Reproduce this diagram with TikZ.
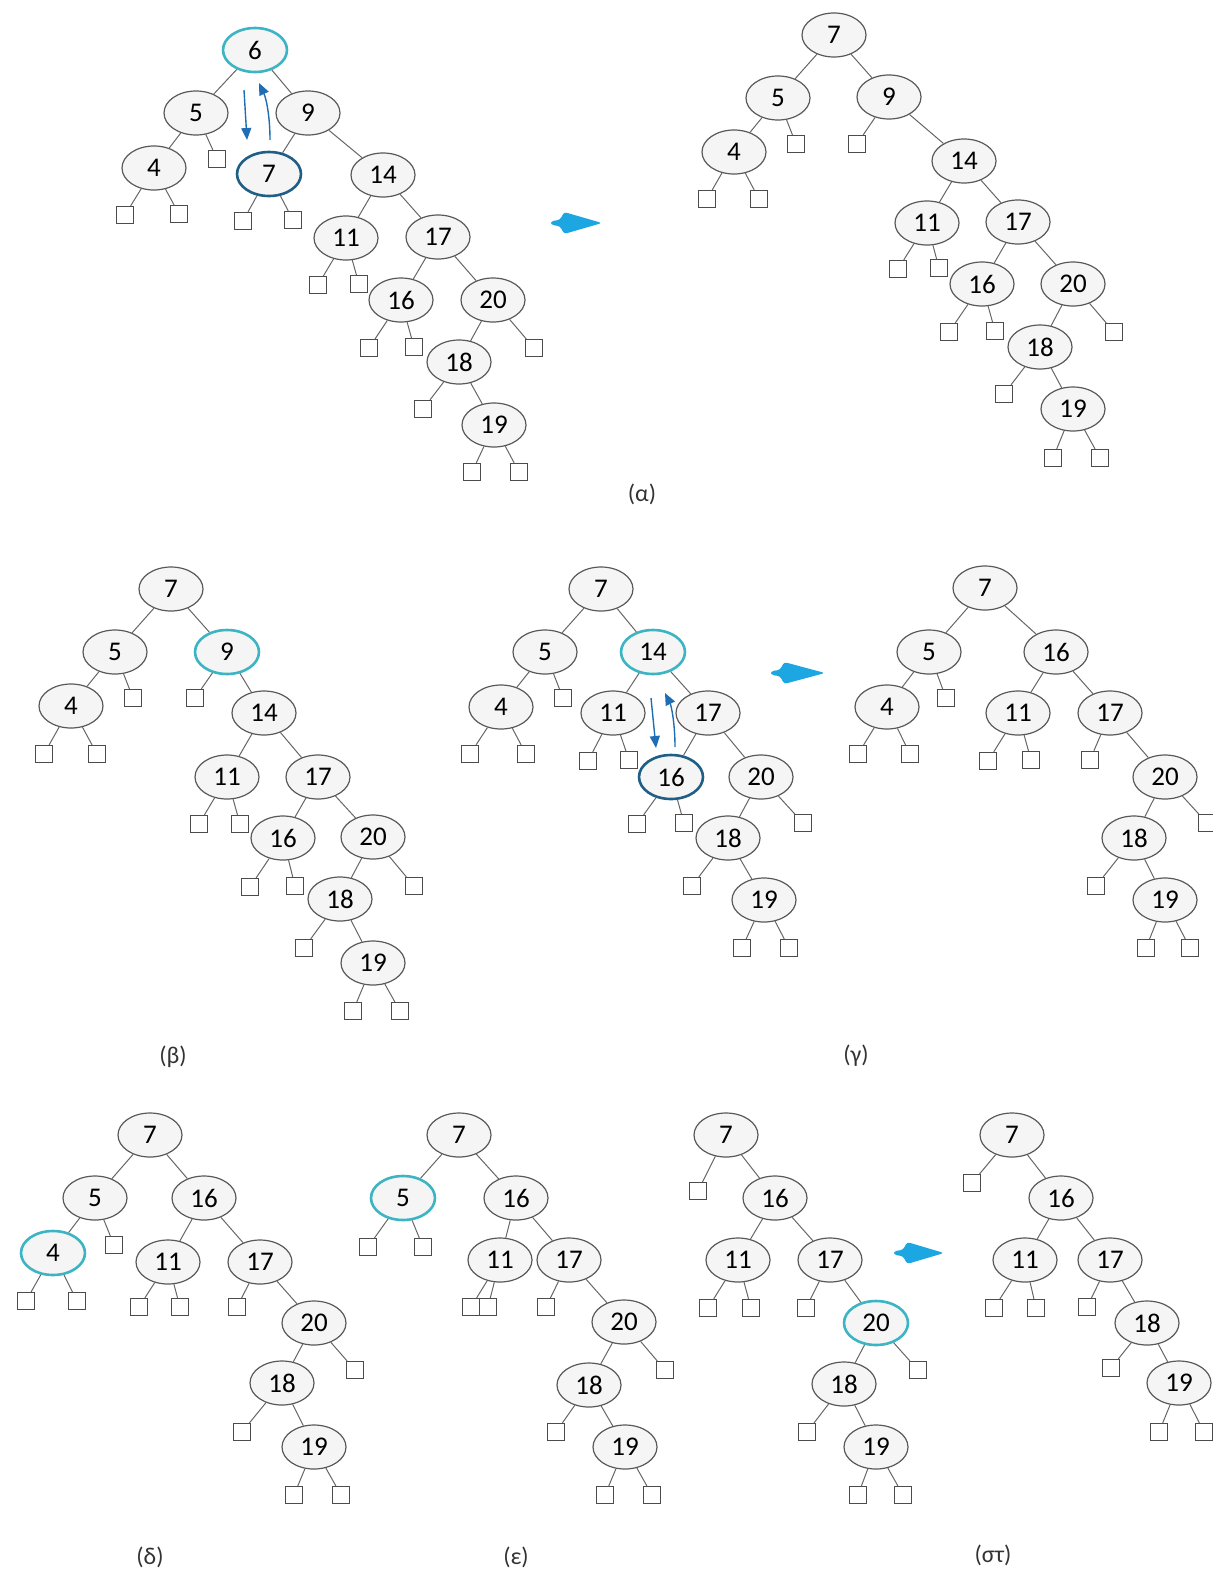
\documentclass[tikz,border=0pt]{standalone}
\usepackage{fontspec}
\setmainfont{Carlito}
\usetikzlibrary{shapes.geometric,arrows.meta}
\definecolor{hlcol}{HTML}{3CB4C4}
\definecolor{hdcol}{HTML}{1F5F86}
\definecolor{smarr}{HTML}{1F6DB5}
\definecolor{bigarr}{HTML}{1CA6E2}
\tikzset{
  nd/.style={ellipse, draw=black!65, fill=black!4, line width=0.6pt, minimum width=32pt, minimum height=22pt, inner sep=0pt, font=\fontsize{13.5}{13.5}\selectfont},
  hlc/.style={draw=hlcol, line width=1.3pt},
  hld/.style={draw=hdcol, line width=1.3pt},
  lf/.style={rectangle, draw=black!70, fill=white, minimum size=8.5pt, inner sep=0pt, line width=0.6pt},
  ed/.style={draw=black!60, line width=0.5pt},
  lab/.style={font=\fontsize{12}{12}\selectfont, text=black!80},
  bigarrow/.style={fill=bigarr, draw=none},
  smallarrow/.style={draw=smarr, line width=0.7pt, -{Triangle[length=6pt,width=5pt]}},
}
\begin{document}
\begin{tikzpicture}[x=0.5pt,y=-0.5pt]
\useasboundingbox (0,0) rectangle (1213,1569);
% ---------- (alpha) left ----------
\node[nd,hlc] (a6) at (255,50) {6};
\node[nd] (a5) at (196,113) {5};
\node[nd] (a9) at (308,113) {9};
\node[nd] (a4) at (154,168) {4};
\node[lf] (a5R) at (217,159) {};
\node[nd,hld] (a7) at (269,174) {7};
\node[nd] (a14) at (383,175) {14};
\node[lf] (a4L) at (125,215) {};
\node[lf] (a4R) at (179,214) {};
\node[lf] (a7L) at (243,221) {};
\node[lf] (a7R) at (293,220) {};
\node[nd] (a11) at (346,238) {11};
\node[nd] (a17) at (438,237) {17};
\node[lf] (a11L) at (318,285) {};
\node[lf] (a11R) at (359,284) {};
\node[nd] (a16) at (401,300) {16};
\node[nd] (a20) at (493,300) {20};
\node[lf] (a16L) at (369,348) {};
\node[lf] (a16R) at (414,347) {};
\node[lf] (a20R) at (534,348) {};
\node[nd] (a18) at (459,362) {18};
\node[lf] (a18L) at (423,409) {};
\node[nd] (a19) at (494,425) {19};
\node[lf] (a19L) at (472,472) {};
\node[lf] (a19R) at (519,472) {};
\foreach \p/\c in {a6/a5,a6/a9,a5/a4,a5/a5R,a4/a4L,a4/a4R,a9/a7,a9/a14,a7/a7L,a7/a7R,a14/a11,a14/a17,a11/a11L,a11/a11R,a17/a16,a17/a20,a16/a16L,a16/a16R,a20/a18,a20/a20R,a18/a18L,a18/a19,a19/a19L,a19/a19R}
  \draw[ed] (\p) -- (\c);
\coordinate (sa1) at (244,90);
\coordinate (sa2) at (247,140);
\coordinate (sa3) at (270,140);
\coordinate (sa4) at (259,83);
\draw[smallarrow] (sa1) -- (sa2);
\draw[smallarrow] (sa3) .. controls (270,115) and (266,98) .. (sa4);
% big arrow alpha
\fill[bigarrow, rounded corners=1.5pt] (551,221) -- (560,220) -- (564,212) -- (602,223) -- (564,234) -- (560,226) -- (551,225) -- cycle;
% ---------- (alpha) right ----------
\node[nd] (b7) at (834,35) {7};
\node[nd] (b5) at (778,98) {5};
\node[nd] (b9) at (889,97) {9};
\node[nd] (b4) at (734,152) {4};
\node[lf] (b5R) at (796,144) {};
\node[lf] (b9L) at (857,144) {};
\node[nd] (b14) at (964,161) {14};
\node[lf] (b4L) at (707,199) {};
\node[lf] (b4R) at (759,199) {};
\node[nd] (b11) at (927,223) {11};
\node[nd] (b17) at (1018,222) {17};
\node[lf] (b11L) at (898,269) {};
\node[lf] (b11R) at (939,268) {};
\node[nd] (b16) at (982,284) {16};
\node[nd] (b20) at (1073,284) {20};
\node[lf] (b16L) at (949,332) {};
\node[lf] (b16R) at (995,331) {};
\node[lf] (b20R) at (1114,332) {};
\node[nd] (b18) at (1040,347) {18};
\node[lf] (b18L) at (1004,394) {};
\node[nd] (b19) at (1073,409) {19};
\node[lf] (b19L) at (1053,458) {};
\node[lf] (b19R) at (1100,458) {};
\foreach \p/\c in {b7/b5,b7/b9,b5/b4,b5/b5R,b9/b9L,b9/b14,b4/b4L,b4/b4R,b14/b11,b14/b17,b11/b11L,b11/b11R,b17/b16,b17/b20,b16/b16L,b16/b16R,b20/b18,b20/b20R,b18/b18L,b18/b19,b19/b19L,b19/b19R}
  \draw[ed] (\p) -- (\c);
\node[lab] (la) at (642,494) {(α)};
% ---------- (beta) ----------
\node[nd] (c7) at (171,589) {7};
\node[nd] (c5) at (115,652) {5};
\node[nd,hlc] (c9) at (227,652) {9};
\node[nd] (c4) at (71,706) {4};
\node[lf] (c5R) at (133,698) {};
\node[lf] (c9L) at (195,698) {};
\node[nd] (c14) at (264,713) {14};
\node[lf] (c4L) at (44,754) {};
\node[lf] (c4R) at (97,754) {};
\node[nd] (c11) at (227,777) {11};
\node[nd] (c17) at (318,777) {17};
\node[lf] (c11L) at (199,824) {};
\node[lf] (c11R) at (240,824) {};
\node[nd] (c16) at (283,838) {16};
\node[nd] (c20) at (373,837) {20};
\node[lf] (c16L) at (250,887) {};
\node[lf] (c16R) at (295,886) {};
\node[lf] (c20R) at (414,886) {};
\node[nd] (c18) at (340,899) {18};
\node[lf] (c18L) at (304,948) {};
\node[nd] (c19) at (373,963) {19};
\node[lf] (c19L) at (353,1011) {};
\node[lf] (c19R) at (400,1011) {};
\foreach \p/\c in {c7/c5,c7/c9,c5/c4,c5/c5R,c9/c9L,c9/c14,c4/c4L,c4/c4R,c14/c11,c14/c17,c11/c11L,c11/c11R,c17/c16,c17/c20,c16/c16L,c16/c16R,c20/c18,c20/c20R,c18/c18L,c18/c19,c19/c19L,c19/c19R}
  \draw[ed] (\p) -- (\c);
\node[lab] (lb) at (173,1057) {(β)};
% ---------- (gamma) left ----------
\node[nd] (d7) at (601,589) {7};
\node[nd] (d5) at (545,652) {5};
\node[nd,hlc] (d14) at (653,652) {14};
\node[nd] (d4) at (501,707) {4};
\node[lf] (d5R) at (563,698) {};
\node[nd] (d11) at (613,713) {11};
\node[nd] (d17) at (708,713) {17};
\node[lf] (d4L) at (470,754) {};
\node[lf] (d4R) at (526,754) {};
\node[lf] (d11L) at (588,761) {};
\node[lf] (d11R) at (629,760) {};
\node[nd,hld] (d16) at (671,777) {16};
\node[nd] (d20) at (761,777) {20};
\node[lf] (d16L) at (637,824) {};
\node[lf] (d16R) at (684,823) {};
\node[lf] (d20R) at (803,823) {};
\node[nd] (d18) at (728,838) {18};
\node[lf] (d18L) at (692,886) {};
\node[nd] (d19) at (764,900) {19};
\node[lf] (d19L) at (742,948) {};
\node[lf] (d19R) at (789,948) {};
\foreach \p/\c in {d7/d5,d7/d14,d5/d4,d5/d5R,d4/d4L,d4/d4R,d14/d11,d14/d17,d11/d11L,d11/d11R,d17/d16,d17/d20,d16/d16L,d16/d16R,d20/d18,d20/d20R,d18/d18L,d18/d19,d19/d19L,d19/d19R}
  \draw[ed] (\p) -- (\c);
\coordinate (sg1) at (651,698);
\coordinate (sg2) at (656,748);
\coordinate (sg3) at (675,747);
\coordinate (sg4) at (665,693);
\draw[smallarrow] (sg1) -- (sg2);
\draw[smallarrow] (sg3) .. controls (675,722) and (671,705) .. (sg4);
\fill[bigarrow, rounded corners=1.5pt] (771,671) -- (780,670) -- (784,662) -- (825,673) -- (784,684) -- (780,676) -- (771,675) -- cycle;
% ---------- (gamma) right ----------
\node[nd] (e7) at (985,588) {7};
\node[nd] (e5) at (929,652) {5};
\node[nd] (e16) at (1056,652) {16};
\node[nd] (e4) at (887,707) {4};
\node[lf] (e5R) at (946,698) {};
\node[nd] (e11) at (1018,713) {11};
\node[nd] (e17) at (1110,713) {17};
\node[lf] (e4L) at (858,754) {};
\node[lf] (e4R) at (910,754) {};
\node[lf] (e11L) at (988,761) {};
\node[lf] (e11R) at (1031,760) {};
\node[lf] (e17L) at (1090,760) {};
\node[nd] (e20) at (1165,777) {20};
\node[lf] (e20R) at (1207,823) {};
\node[nd] (e18) at (1134,838) {18};
\node[lf] (e18L) at (1096,886) {};
\node[nd] (e19) at (1165,900) {19};
\node[lf] (e19L) at (1146,948) {};
\node[lf] (e19R) at (1190,948) {};
\foreach \p/\c in {e7/e5,e7/e16,e5/e4,e5/e5R,e4/e4L,e4/e4R,e16/e11,e16/e17,e11/e11L,e11/e11R,e17/e17L,e17/e20,e20/e18,e20/e20R,e18/e18L,e18/e19,e19/e19L,e19/e19R}
  \draw[ed] (\p) -- (\c);
\node[lab] (lg) at (856,1056) {(γ)};
% ---------- (delta) ----------
\node[nd] (f7) at (150,1135) {7};
\node[nd] (f5) at (95,1198) {5};
\node[nd] (f16) at (204,1198) {16};
\node[nd,hlc] (f4) at (53,1253) {4};
\node[lf] (f5R) at (114,1245) {};
\node[nd] (f11) at (168,1262) {11};
\node[nd] (f17) at (260,1262) {17};
\node[lf] (f4L) at (26,1301) {};
\node[lf] (f4R) at (77,1301) {};
\node[lf] (f11L) at (139,1307) {};
\node[lf] (f11R) at (180,1307) {};
\node[lf] (f17L) at (237,1307) {};
\node[nd] (f20) at (314,1323) {20};
\node[lf] (f20R) at (355,1370) {};
\node[nd] (f18) at (282,1383) {18};
\node[lf] (f18L) at (242,1432) {};
\node[nd] (f19) at (314,1447) {19};
\node[lf] (f19L) at (294,1495) {};
\node[lf] (f19R) at (341,1495) {};
\foreach \p/\c in {f7/f5,f7/f16,f5/f4,f5/f5R,f4/f4L,f4/f4R,f16/f11,f16/f17,f11/f11L,f11/f11R,f17/f17L,f17/f20,f20/f18,f20/f20R,f18/f18L,f18/f19,f19/f19L,f19/f19R}
  \draw[ed] (\p) -- (\c);
\node[lab] (ld) at (150,1557) {(δ)};
% ---------- (epsilon) ----------
\node[nd] (g7) at (459,1135) {7};
\node[nd,hlc] (g5) at (403,1198) {5};
\node[nd] (g16) at (516,1198) {16};
\node[lf] (g5L) at (368,1247) {};
\node[lf] (g5R) at (423,1247) {};
\node[nd] (g11) at (500,1260) {11};
\node[nd] (g17) at (569,1260) {17};
\node[lf] (g11L) at (471,1307) {};
\node[lf] (g11R) at (488,1307) {};
\node[lf] (g17L) at (546,1307) {};
\node[nd] (g20) at (624,1322) {20};
\node[lf] (g20R) at (665,1370) {};
\node[nd] (g18) at (589,1385) {18};
\node[lf] (g18L) at (556,1432) {};
\node[nd] (g19) at (625,1447) {19};
\node[lf] (g19L) at (605,1495) {};
\node[lf] (g19R) at (652,1495) {};
\foreach \p/\c in {g7/g5,g7/g16,g5/g5L,g5/g5R,g16/g11,g16/g17,g11/g11L,g11/g11R,g17/g17L,g17/g20,g20/g18,g20/g20R,g18/g18L,g18/g19,g19/g19L,g19/g19R}
  \draw[ed] (\p) -- (\c);
\node[lab] (le) at (516,1557) {(ε)};
% ---------- (st) left ----------
\node[nd] (h7) at (726,1135) {7};
\node[lf] (h7L) at (698,1191) {};
\node[nd] (h16) at (775,1198) {16};
\node[nd] (h11) at (738,1260) {11};
\node[nd] (h17) at (830,1260) {17};
\node[lf] (h11L) at (708,1308) {};
\node[lf] (h11R) at (751,1308) {};
\node[lf] (h17L) at (806,1308) {};
\node[nd,hlc] (h20) at (876,1323) {20};
\node[lf] (h20R) at (918,1370) {};
\node[nd] (h18) at (844,1384) {18};
\node[lf] (h18L) at (807,1432) {};
\node[nd] (h19) at (876,1447) {19};
\node[lf] (h19L) at (858,1495) {};
\node[lf] (h19R) at (903,1495) {};
\foreach \p/\c in {h7/h7L,h7/h16,h16/h11,h16/h17,h11/h11L,h11/h11R,h17/h17L,h17/h20,h20/h18,h20/h20R,h18/h18L,h18/h19,h19/h19L,h19/h19R}
  \draw[ed] (\p) -- (\c);
\fill[bigarrow, rounded corners=1.5pt] (894,1251) -- (903,1250) -- (907,1242) -- (944,1253) -- (907,1264) -- (903,1256) -- (894,1255) -- cycle;
% ---------- (st) right ----------
\node[nd] (i7) at (1012,1135) {7};
\node[lf] (i7L) at (972,1183) {};
\node[nd] (i16) at (1061,1198) {16};
\node[nd] (i11) at (1025,1260) {11};
\node[nd] (i17) at (1110,1260) {17};
\node[lf] (i11L) at (994,1308) {};
\node[lf] (i11R) at (1036,1308) {};
\node[lf] (i17L) at (1087,1307) {};
\node[nd] (i18) at (1147,1323) {18};
\node[lf] (i18L) at (1111,1368) {};
\node[nd] (i19) at (1179,1383) {19};
\node[lf] (i19L) at (1159,1432) {};
\node[lf] (i19R) at (1204,1432) {};
\foreach \p/\c in {i7/i7L,i7/i16,i16/i11,i16/i17,i11/i11L,i11/i11R,i17/i17L,i17/i18,i18/i18L,i18/i19,i19/i19L,i19/i19R}
  \draw[ed] (\p) -- (\c);
\node[lab] (ls) at (993,1555) {(στ)};
\end{tikzpicture}
\end{document}
